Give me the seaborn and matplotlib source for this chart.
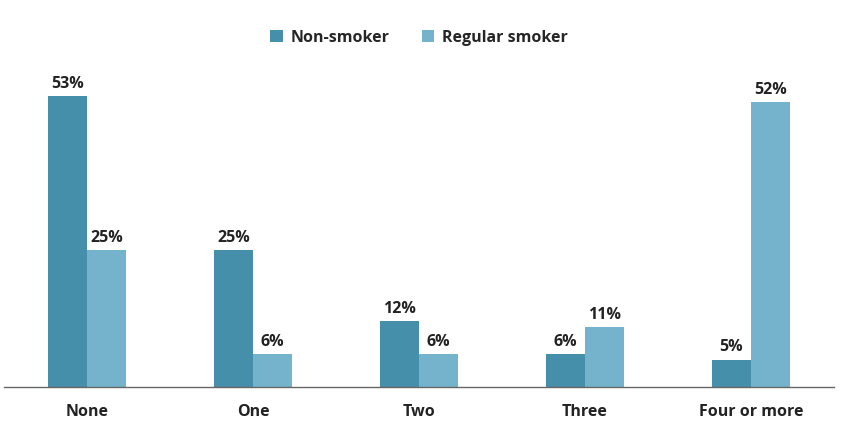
import seaborn as sns
import pandas as pd
import matplotlib.pyplot as plt

categories = ["None", "One", "Two", "Three", "Four or more"]
non_smoker = [53, 25, 12, 6, 5]
regular_smoker = [25, 6, 6, 11, 52]
series_names = ["Non-smoker", "Regular smoker"]
colors = ["#468FAB", "#74B3CB"]

df = pd.DataFrame({
    "cat": categories * 2,
    "val": non_smoker + regular_smoker,
    "group": [series_names[0]] * 5 + [series_names[1]] * 5,
})

sns.set_style("white")
plt.rcParams['font.family'] = ['Open Sans', 'DejaVu Sans']

fig = plt.figure(figsize=(8.64, 4.37), dpi=100)
ax = fig.add_axes([4 / 864, 50 / 437, 830 / 864, 329 / 437])
sns.barplot(data=df, x="cat", y="val", hue="group", palette=colors,
            width=0.47, saturation=1, linewidth=0, ax=ax)

for c in ax.containers:
    ax.bar_label(c, labels=[f"{v:.0f}%" for v in c.datavalues], padding=3,
                 fontsize=11.5, fontweight="bold", color="#222222")

ax.set_ylim(0, 60)
ax.set_xlim(-0.5, 4.5)
ax.set_yticks([])
ax.set_xlabel("")
ax.set_ylabel("")
ax.tick_params(axis="x", length=0, pad=12)
for lbl in ax.get_xticklabels():
    lbl.set_fontsize(11.5)
    lbl.set_fontweight("bold")
    lbl.set_color("#222222")
for s in ["top", "right", "left"]:
    ax.spines[s].set_visible(False)
ax.spines["bottom"].set_color("#666666")
ax.spines["bottom"].set_linewidth(1)

ax.legend(loc="upper center", bbox_to_anchor=(0.5, 1.13), ncol=2, frameon=False,
          prop={"weight": "bold", "size": 11.5}, handlelength=0.8, handleheight=0.8,
          columnspacing=2.0, handletextpad=0.5)

plt.savefig("out.png", dpi=100)
